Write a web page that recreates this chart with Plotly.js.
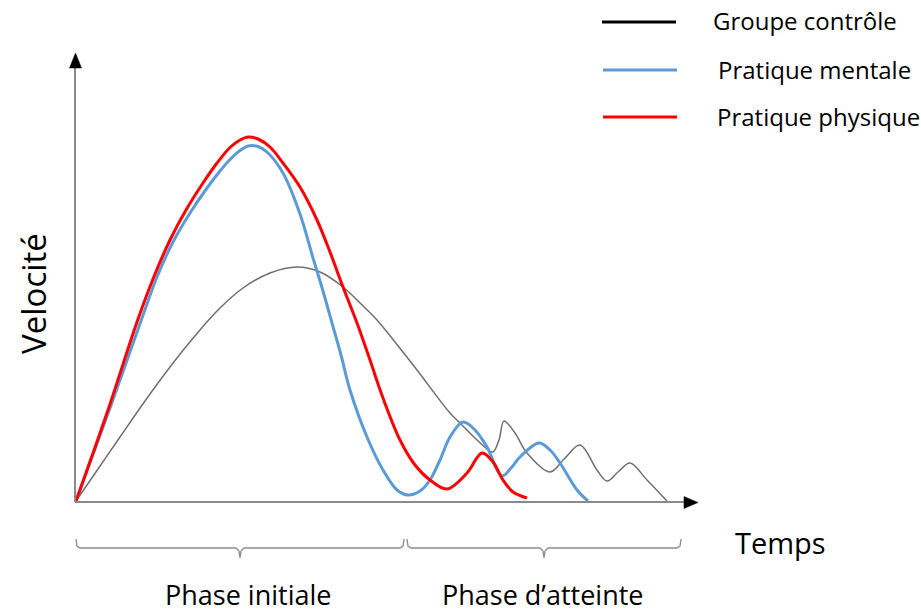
<!DOCTYPE html>
<html>
<head>
<meta charset="utf-8">
<script src="https://cdn.plot.ly/plotly-3.0.1.min.js"></script>
<style>html,body{margin:0;padding:0;background:#fff;}#chart{width:921px;height:614px;}</style>
</head>
<body>
<div id="chart"></div>
<script>
// Time (t) and velocity (v) values (arbitrary units)
const controlT = [0, 0.22, 0.44, 0.69, 0.94, 1.18, 1.42, 1.67, 1.94, 2.21, 2.44, 2.67, 2.84, 3.01, 3.19, 3.41, 3.74, 3.84, 3.99, 4.11, 4.17, 4.23, 4.28, 4.39, 4.51, 4.74, 4.89, 5.04, 5.21, 5.31, 5.42, 5.54, 5.71, 5.91];
const controlV = [0, 0.32, 0.64, 1.00, 1.34, 1.64, 1.91, 2.13, 2.28, 2.34, 2.29, 2.14, 1.98, 1.81, 1.59, 1.31, 0.88, 0.78, 0.63, 0.52, 0.49, 0.61, 0.80, 0.68, 0.48, 0.29, 0.43, 0.56, 0.31, 0.20, 0.29, 0.38, 0.21, 0];

const mentalT = [0, 0.34, 0.66, 0.81, 0.97, 1.14, 1.31, 1.44, 1.54, 1.64, 1.72, 1.82, 1.91, 2.07, 2.24, 2.37, 2.47, 2.56, 2.65, 2.74, 2.91, 3.07, 3.21, 3.32, 3.44, 3.54, 3.64, 3.74, 3.87, 3.99, 4.11, 4.26, 4.35, 4.44, 4.63, 4.74, 4.84, 5.01, 5.12];
const mentalV = [0, 0.93, 1.83, 2.24, 2.59, 2.88, 3.13, 3.30, 3.415, 3.505, 3.55, 3.545, 3.49, 3.28, 2.87, 2.43, 2.10, 1.78, 1.46, 1.11, 0.64, 0.31, 0.11, 0.06, 0.10, 0.21, 0.41, 0.64, 0.79, 0.71, 0.54, 0.25, 0.33, 0.44, 0.58, 0.51, 0.38, 0.11, 0];

const physT = [0, 0.32, 0.61, 0.77, 0.94, 1.10, 1.27, 1.41, 1.54, 1.64, 1.72, 1.82, 1.94, 2.07, 2.24, 2.41, 2.54, 2.67, 2.81, 2.94, 3.07, 3.24, 3.39, 3.54, 3.71, 3.91, 4.06, 4.17, 4.27, 4.37, 4.51];
const physV = [0, 0.91, 1.79, 2.22, 2.61, 2.91, 3.18, 3.38, 3.535, 3.61, 3.64, 3.62, 3.54, 3.38, 3.14, 2.81, 2.49, 2.14, 1.78, 1.41, 1.03, 0.61, 0.36, 0.21, 0.12, 0.28, 0.48, 0.39, 0.21, 0.09, 0.03];

const seriesNames = ["Groupe contrôle", "Pratique mentale", "Pratique physique"];
const phaseLabels = ["Phase initiale", "Phase d\u2019atteinte"];
const xLabel = "Temps";
const yLabel = "Velocité";

const W = 921, H = 614;
const FONT = "Open Sans, Noto Sans, sans-serif";
const px = x => x / W;          // pixel -> paper x
const py = y => 1 - y / H;      // pixel -> paper y
function path(pts) { return "M" + pts.map(p => px(p[0]) + "," + py(p[1])).join(" L"); }

const traces = [
  {x: controlT, y: controlV, mode: "lines", name: seriesNames[0],
   line: {color: "#6f6f6f", width: 1.5, shape: "spline", smoothing: 1}},
  {x: mentalT, y: mentalV, mode: "lines", name: seriesNames[1],
   line: {color: "#5B9BD5", width: 3, shape: "spline", smoothing: 1}},
  {x: physT, y: physV, mode: "lines", name: seriesNames[2],
   line: {color: "#FF0000", width: 3, shape: "spline", smoothing: 1}}
];

const axisCol = "#8a8a8a";
const shapes = [
  // axes
  {type: "line", xref: "paper", yref: "paper", x0: px(75), y0: py(502), x1: px(75), y1: py(64), line: {color: axisCol, width: 2}},
  {type: "line", xref: "paper", yref: "paper", x0: px(75), y0: py(502), x1: px(687), y1: py(502), line: {color: axisCol, width: 2}},
  {type: "path", xref: "paper", yref: "paper", path: "M" + px(75.5) + "," + py(53) + " L" + px(81.5) + "," + py(68) + " L" + px(69.5) + "," + py(68) + " Z", fillcolor: "#000", line: {color: "#000", width: 0.5}},
  {type: "path", xref: "paper", yref: "paper", path: "M" + px(698) + "," + py(502.5) + " L" + px(684) + "," + py(496.5) + " L" + px(684) + "," + py(508.5) + " Z", fillcolor: "#000", line: {color: "#000", width: 0.5}},
  // braces
  {type: "path", xref: "paper", yref: "paper", line: {color: "#8c8c8c", width: 1.3},
   path: path([[76,539],[77,546],[80,548],[236,548],[239,551],[240,558],[241,551],[244,548],[400,548],[403,546],[404,539]])},
  {type: "path", xref: "paper", yref: "paper", line: {color: "#8c8c8c", width: 1.3},
   path: path([[407,539],[408,546],[411,548],[540,548],[543,551],[544,558],[545,551],[548,548],[677,548],[680,546],[681,539]])},
  // legend lines
  {type: "line", xref: "paper", yref: "paper", x0: px(602), y0: py(22), x1: px(676), y1: py(22), line: {color: "#000", width: 3}},
  {type: "line", xref: "paper", yref: "paper", x0: px(603), y0: py(70), x1: px(677), y1: py(70), line: {color: "#5B9BD5", width: 3}},
  {type: "line", xref: "paper", yref: "paper", x0: px(603), y0: py(117), x1: px(677), y1: py(117), line: {color: "#FF0000", width: 3}}
];

function txt(t, x, y, size, extra) {
  return Object.assign({text: t, xref: "paper", yref: "paper", x: px(x), y: py(y), showarrow: false,
    xanchor: "center", yanchor: "middle", font: {family: FONT, size: size, color: "#000"}}, extra || {});
}
const annotations = [
  txt(seriesNames[0], 805, 20, 24),
  txt(seriesNames[1], 814, 69, 24),
  txt(seriesNames[2], 818, 117, 24),
  txt(yLabel, 33, 294, 33, {textangle: -90}),
  txt(xLabel, 780, 542, 29),
  txt(phaseLabels[0], 248, 594, 27),
  txt(phaseLabels[1], 543, 594, 27)
];

const layout = {
  width: W, height: H,
  margin: {l: 0, r: 0, t: 0, b: 0},
  paper_bgcolor: "#fff", plot_bgcolor: "#fff",
  showlegend: false,
  xaxis: {range: [-0.76, 8.45], visible: false, fixedrange: true},
  yaxis: {range: [-1.13, 5.01], visible: false, fixedrange: true},
  shapes: shapes,
  annotations: annotations
};

Plotly.newPlot("chart", traces, layout, {displayModeBar: false, staticPlot: true});
</script>
</body>
</html>
